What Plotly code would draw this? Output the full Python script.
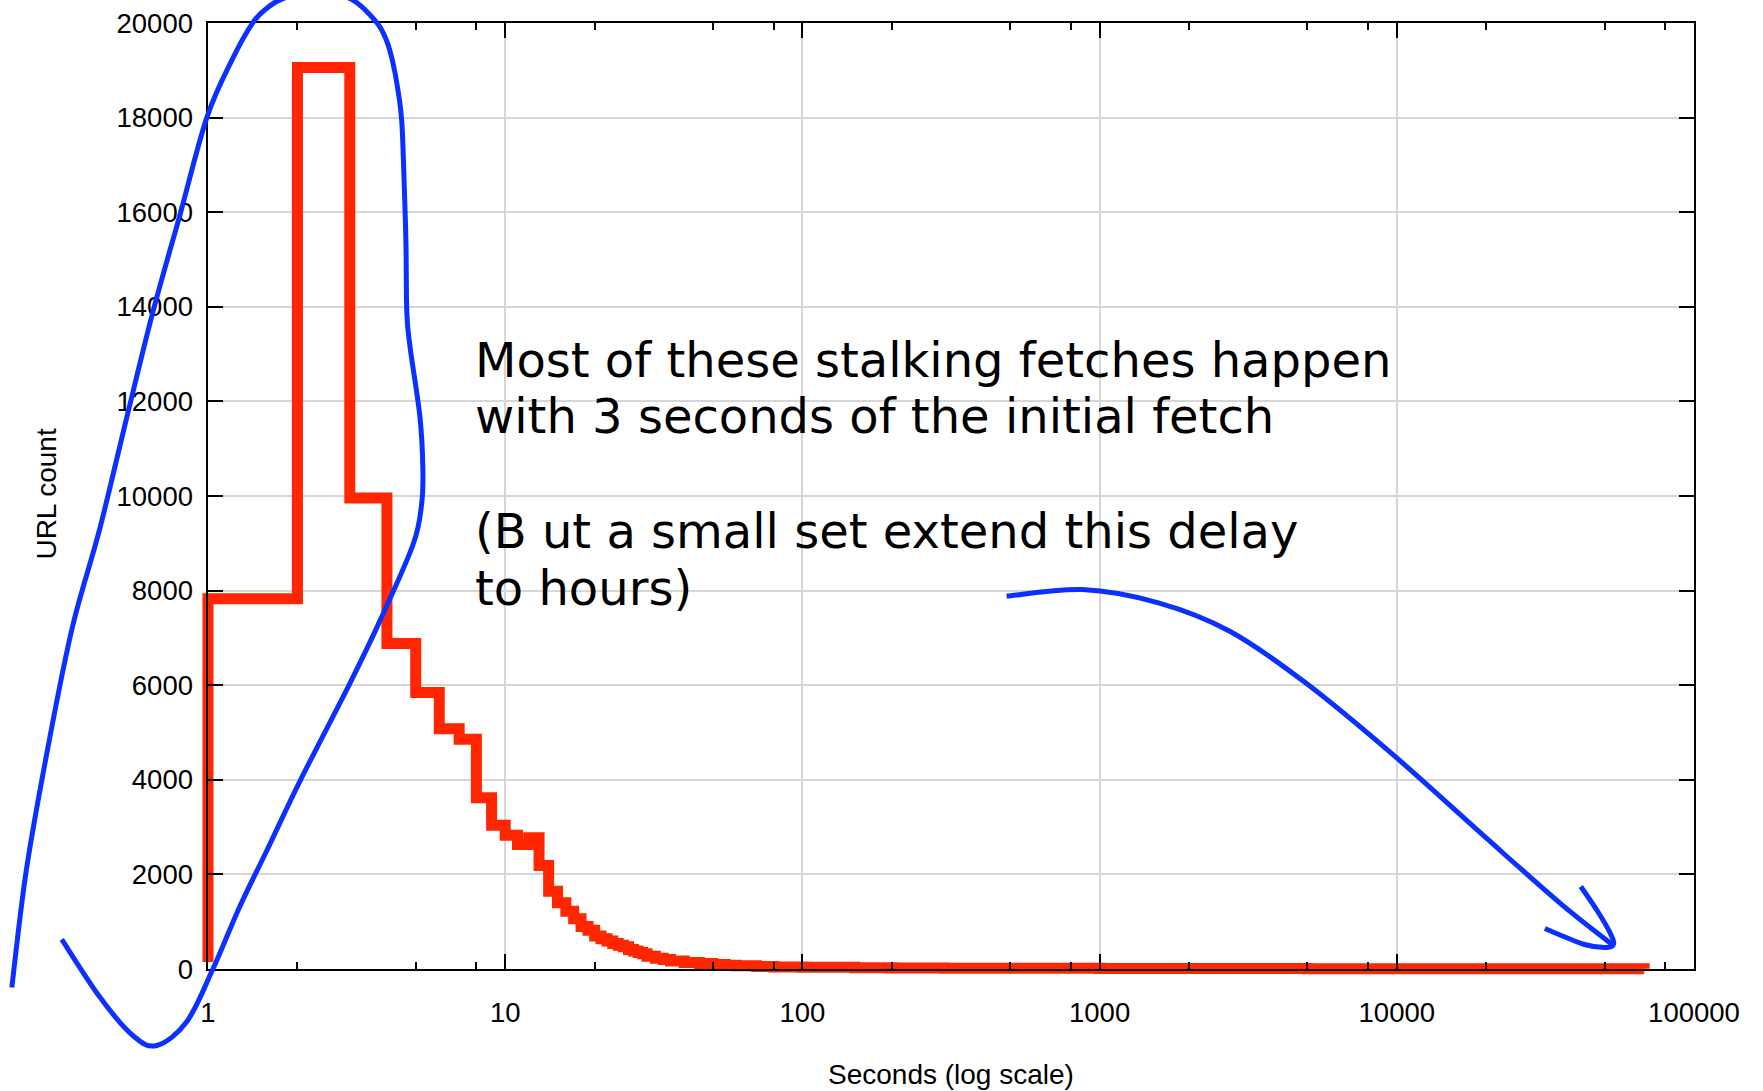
import math
import plotly.graph_objects as go

# ---------------- data ----------------
seconds = [1, 1, 2, 3, 4, 5, 6, 7, 8, 9, 10, 11, 12, 13, 14, 15, 16, 17, 18, 19, 20,
           21, 22, 23, 24, 25, 26, 27, 28, 29, 30, 32, 34, 36, 40, 45, 50, 55, 60, 70, 80,
           100, 150, 200, 300, 500, 1000, 2000, 5000, 10000, 20000, 40000, 68000]
url_count = [150, 7830, 19060, 9960, 6880, 5845, 5080, 4860, 3620, 3040, 2830, 2630, 2775,
             2190, 1645, 1400, 1220, 1060, 900, 820, 700,
             640, 590, 540, 500, 470, 410, 380, 350, 320, 270, 230, 200, 170, 140, 115, 95,
             80, 70, 55, 45,
             35, 28, 22, 18, 14, 11, 9, 7, 6, 5, 4, 3]

x_tick_vals = [1, 10, 100, 1000, 10000, 100000]
x_tick_text = ["1", "10", "100", "1000", "10000", "100000"]
x_minor_vals = [2, 5, 8, 20, 50, 80, 200, 500, 800, 2000, 5000, 8000, 20000, 50000, 80000]
y_tick_vals = [0, 2000, 4000, 6000, 8000, 10000, 12000, 14000, 16000, 18000, 20000]
y_tick_text = [str(v) for v in y_tick_vals]

x_title = "Seconds (log scale)"
y_title = "URL count"
note_lines = ["Most of these stalking fetches happen",
              "with 3 seconds of the initial fetch",
              "(B ut a small set extend this delay",
              "to hours)"]

# hand-drawn blue strokes, in (log10 seconds, URL count) units
loop_logsec = [-0.660, -0.611, -0.532, -0.455, -0.364, -0.273, -0.186, -0.095, -0.004, 0.083,
               0.151, 0.198, 0.252, 0.363, 0.484, 0.568, 0.602, 0.622, 0.639, 0.652, 0.659,
               0.666, 0.669, 0.680, 0.713, 0.723, 0.719, 0.690, 0.578, 0.477, 0.309, 0.198,
               0.107, 0.016, -0.071, -0.172, -0.253, -0.364, -0.492]
loop_count = [-391, 2103, 4902, 7262, 9312, 11669, 13878, 15929, 18000, 19248,
              20009, 20312, 20517, 20686, 20495, 20009, 19608, 19164, 18593, 17917, 16829,
              15370, 13878, 13146, 11680, 10581, 9841, 8974, 7355, 6035, 3968, 2505,
              1321, -6, -1110, -1617, -1406, -594, 624]
arrow_logsec = [2.687, 2.942, 3.198, 3.438, 3.693, 3.993, 4.294, 4.548, 4.722]
arrow_count = [7881, 8023, 7742, 7141, 6050, 4499, 2807, 1399, 530]
head_logsec = [4.619, 4.676, 4.717, 4.730, 4.707, 4.632, 4.498]
head_count = [1744, 1216, 772, 539, 455, 518, 856]

# ---------------- layout geometry ----------------
W, H = 1763, 1091
L, R, T, B = 208.2, 1694.5, 23.0, 969.5   # plot-area box in pixels
pad = 12
ml, mr, mt, mb = L - pad, W - R - pad, T - pad, H - B - pad
pw, ph = W - ml - mr, H - mt - mb
dx = [pad / pw, 1 - pad / pw]
dy = [pad / ph, 1 - pad / ph]
XR = [0, 5]
YR = [0, 20000]
ext_x = pad * (XR[1] - XR[0]) / (R - L)
ext_y = pad * (YR[1] - YR[0]) / (B - T)

RED = "#ff2600"
BLUE = "#0b30ff"
GRID = "#d6d6d6"
FONT = "Liberation Sans, Arial, Helvetica, sans-serif"
NOTE_FONT = "DejaVu Sans, Liberation Sans, sans-serif"
NOTE_SIZE = 48


def to_paper(lx, cy):
    return (dx[0] + (lx - XR[0]) / (XR[1] - XR[0]) * (dx[1] - dx[0]),
            dy[0] + (cy - YR[0]) / (YR[1] - YR[0]) * (dy[1] - dy[0]))


def px2paper(xp, yp):
    return (xp - ml) / pw, 1 - (yp - mt) / ph


def smooth_path(xs, ys):
    pts = [to_paper(a, b) for a, b in zip(xs, ys)]
    n = len(pts)
    s = f"M {pts[0][0]:.5f},{pts[0][1]:.5f}"
    for i in range(n - 1):
        p0 = pts[i - 1] if i > 0 else pts[i]
        p1, p2 = pts[i], pts[i + 1]
        p3 = pts[i + 2] if i + 2 < n else pts[i + 1]
        c1 = (p1[0] + (p2[0] - p0[0]) / 6, p1[1] + (p2[1] - p0[1]) / 6)
        c2 = (p2[0] - (p3[0] - p1[0]) / 6, p2[1] - (p3[1] - p1[1]) / 6)
        s += (f" C {c1[0]:.5f},{c1[1]:.5f} {c2[0]:.5f},{c2[1]:.5f} "
              f"{p2[0]:.5f},{p2[1]:.5f}")
    return s


fig = go.Figure()

# data trace on an invisible, slightly larger subplot so the thick line is not clipped
fig.add_trace(go.Scatter(x=seconds, y=url_count, mode="lines", line_shape="hv",
                         line=dict(color=RED, width=11), xaxis="x2", yaxis="y2",
                         hoverinfo="skip", showlegend=False))
# placeholder traces so the grid and frame subplots exist
fig.add_trace(go.Scatter(x=[1], y=[0], mode="markers", marker=dict(opacity=0),
                         xaxis="x", yaxis="y", hoverinfo="skip", showlegend=False))
fig.add_trace(go.Scatter(x=[1], y=[0], mode="markers", marker=dict(opacity=0),
                         xaxis="x3", yaxis="y3", hoverinfo="skip", showlegend=False))

tickfont = dict(family=FONT, size=27.5, color="black")

shapes = [
    dict(type="path", xref="paper", yref="paper", layer="above",
         path=smooth_path(loop_logsec, loop_count), line=dict(color=BLUE, width=5)),
    dict(type="path", xref="paper", yref="paper", layer="above",
         path=smooth_path(arrow_logsec, arrow_count), line=dict(color=BLUE, width=5)),
    dict(type="path", xref="paper", yref="paper", layer="above",
         path=smooth_path(head_logsec, head_count), line=dict(color=BLUE, width=5)),
]

annotations = []
baselines = [377, 433, 548, 605]
for txt, yb in zip(note_lines, baselines):
    ax_, ay_ = px2paper(474, yb - 0.346 * NOTE_SIZE)
    annotations.append(dict(text=txt, x=ax_, y=ay_, xref="paper", yref="paper",
                            xanchor="left", yanchor="middle", showarrow=False, borderpad=0,
                            font=dict(family=NOTE_FONT, size=NOTE_SIZE, color="black")))
tx, ty = px2paper(951, 1075)
annotations.append(dict(text=x_title, x=tx, y=ty, xref="paper", yref="paper",
                        xanchor="center", yanchor="middle", showarrow=False, borderpad=0,
                        font=dict(family=FONT, size=28, color="black")))
yx, yy = px2paper(47, 494)
annotations.append(dict(text=y_title, x=yx, y=yy, xref="paper", yref="paper",
                        xanchor="center", yanchor="middle", showarrow=False, textangle=-90,
                        borderpad=0, font=dict(family=FONT, size=28, color="black")))

fig.update_layout(
    width=W, height=H,
    margin=dict(l=ml, r=mr, t=mt, b=mb, pad=0, autoexpand=False),
    paper_bgcolor="white", plot_bgcolor="rgba(0,0,0,0)",
    showlegend=False,
    # grid + tick labels
    xaxis=dict(type="log", range=XR, domain=dx, anchor="y", showgrid=True,
               gridcolor=GRID, gridwidth=1.5, tickvals=x_tick_vals, ticktext=x_tick_text,
               ticks="", showline=False, zeroline=False, tickfont=tickfont,
               ticklabelstandoff=24, automargin=False, fixedrange=True),
    yaxis=dict(range=YR, domain=dy, anchor="x", showgrid=True, gridcolor=GRID,
               gridwidth=1.5, tickvals=y_tick_vals, ticktext=y_tick_text, ticks="",
               showline=False, zeroline=False, tickfont=tickfont,
               ticklabelstandoff=14, automargin=False, fixedrange=True),
    # data subplot (invisible, extended)
    xaxis2=dict(type="log", range=[XR[0] - ext_x, XR[1] + ext_x], domain=[0, 1],
                anchor="y2", visible=False, automargin=False, fixedrange=True),
    yaxis2=dict(range=[YR[0] - ext_y, YR[1] + ext_y], domain=[0, 1], anchor="x2",
                visible=False, automargin=False, fixedrange=True),
    # frame + ticks above the data
    xaxis3=dict(type="log", range=XR, domain=dx, anchor="y3", showgrid=False,
                showticklabels=False, tickvals=x_tick_vals, ticks="inside", ticklen=15,
                tickwidth=2, tickcolor="black", showline=True, linewidth=2.2,
                linecolor="black", mirror="ticks", zeroline=False, automargin=False,
                minor=dict(tickvals=x_minor_vals, ticks="inside", ticklen=7,
                           tickwidth=1.5, tickcolor="black", showgrid=False),
                fixedrange=True),
    yaxis3=dict(range=YR, domain=dy, anchor="x3", showgrid=False, showticklabels=False,
                tickvals=y_tick_vals, ticks="inside", ticklen=15, tickwidth=2,
                tickcolor="black", showline=True, linewidth=2.2, linecolor="black",
                mirror="ticks", zeroline=False, automargin=False, fixedrange=True),
    shapes=shapes,
    annotations=annotations,
)

fig.write_html("out.html", config={"displayModeBar": False},
               post_script="document.body.style.margin='0px';")
